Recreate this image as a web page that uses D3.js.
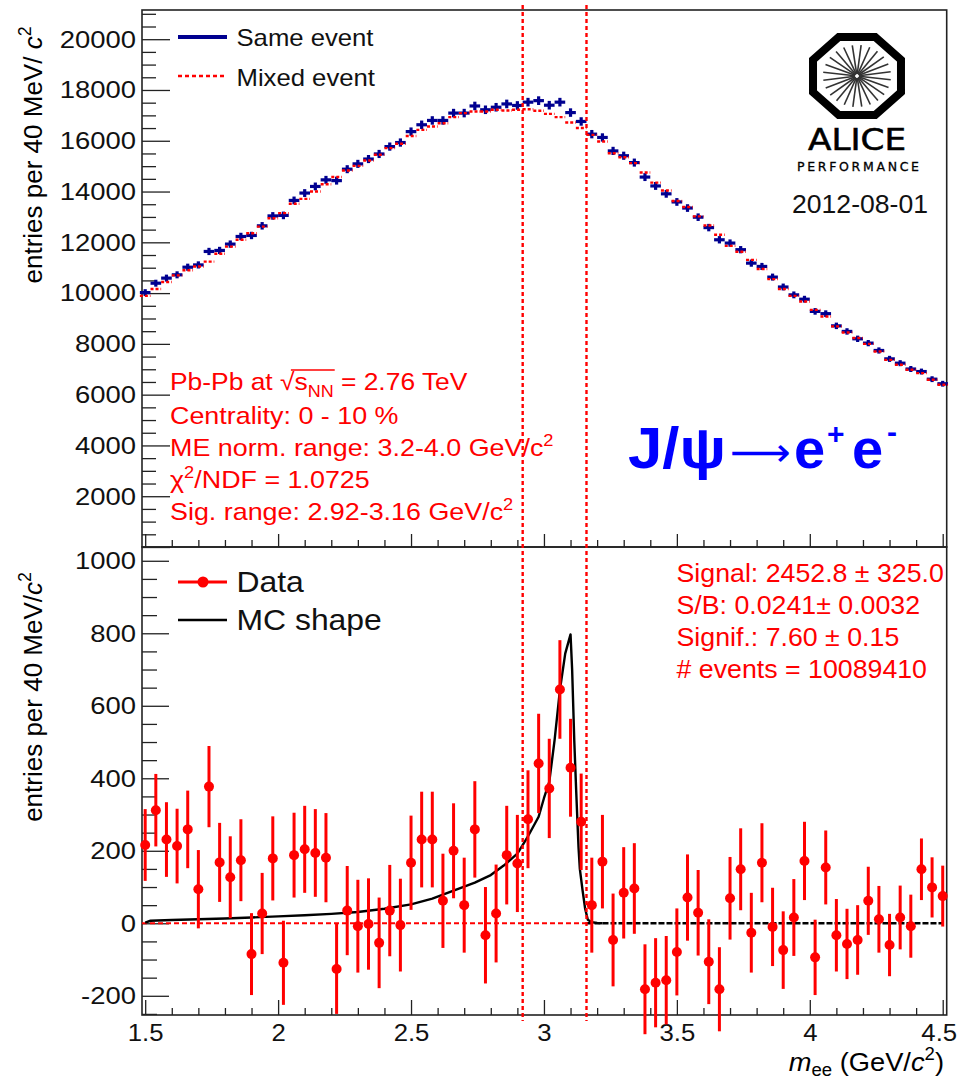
<!DOCTYPE html>
<html>
<head>
<meta charset="utf-8">
<script src="https://cdn.jsdelivr.net/npm/d3@7"></script>
<style>
  body { margin: 0; background: #fff; }
  svg { display: block; }
</style>
</head>
<body>
<svg id="chart" width="960" height="1083"></svg>
<script>
// Invariant-mass bins (GeV/c^2), 40 MeV wide
const massBins = [1.50,1.54,1.58,1.62,1.66,1.70,1.74,1.78,1.82,1.86,1.90,1.94,1.98,2.02,2.06,2.10,2.14,2.18,2.22,2.26,
  2.30,2.34,2.38,2.42,2.46,2.50,2.54,2.58,2.62,2.66,2.70,2.74,2.78,2.82,2.86,2.90,2.94,2.98,3.02,3.06,
  3.10,3.14,3.18,3.22,3.26,3.30,3.34,3.38,3.42,3.46,3.50,3.54,3.58,3.62,3.66,3.70,3.74,3.78,3.82,3.86,
  3.90,3.94,3.98,4.02,4.06,4.10,4.14,4.18,4.22,4.26,4.30,4.34,4.38,4.42,4.46,4.50];
const binWidth = 0.04;

// Same-event unlike-sign pairs
const sameEvent = [10020,10390,10590,10720,11020,11110,11640,11680,11930,12230,12270,12650,13040,13060,13650,13940,14200,14460,14430,14880,
  15090,15280,15480,15770,15930,16360,16630,16800,16800,17090,17090,17370,17220,17320,17450,17390,17520,17580,17400,17520,
  17110,16760,16260,16130,15600,15410,15140,14570,14220,13910,13590,13350,12990,12580,12100,11970,11710,11180,11050,10630,
  10240,9930,9760,9280,9190,8710,8490,8200,8030,7740,7410,7240,7010,6910,6610,6430];
const sameEventErr = [135,137,138,139,140,141,143,143,144,146,146,148,150,150,153,154,155,157,157,158,
  159,160,161,162,163,165,166,167,167,168,168,169,169,169,170,170,170,171,170,170,
  168,167,165,164,162,161,159,157,155,154,152,151,149,147,145,144,143,141,140,138,
  136,135,134,131,131,128,127,125,124,122,120,119,118,117,115,114];
// Mixed-event background, normalised in 3.2-4.0 GeV/c^2
const mixedEvent = [9890,10160,10440,10700,10900,11050,11240,11550,11830,12100,12360,12620,12950,13150,13520,13710,14000,14290,14570,14830,
  15010,15220,15450,15710,15880,16190,16430,16560,16690,16930,17090,17150,17150,17220,17190,17220,17240,17180,17060,16930,
  16720,16500,16230,15970,15510,15350,15120,14750,14350,14040,13630,13390,13020,12660,12300,11860,11630,11310,10950,10550,
  10160,9890,9670,9340,9080,8690,8450,8230,8000,7700,7370,7180,6980,6850,6590,6390];

// Background-subtracted signal
const signal = [216,312,231,213,259,94,377,168,127,174,-85,27,179,-109,188,204,194,181,-126,35,
  -8,-2,-54,35,-5,167,231,231,62,200,50,259,-33,27,188,165,287,441,372,645,
  429,280,50,170,-46,84,96,-182,-164,-157,-79,71,29,-106,-182,69,149,-26,167,-10,
  -74,16,172,-94,154,-33,-57,-46,62,11,-60,16,-8,149,99,75];
const signalErr = [99,100,103,103,107,108,112,109,113,113,113,112,116,116,117,120,121,123,124,123,
  128,126,125,126,128,130,132,132,130,131,131,133,133,135,136,134,135,137,137,136,
  135,133,131,129,128,126,125,124,123,122,120,119,118,117,116,114,113,110,109,108,
  107,106,108,104,102,100,97,96,94,92,86,88,87,85,83,84];

// MC line shape of the J/psi
const mcMass = [1.50,1.52,1.60,1.70,1.80,1.90,2.00,2.10,2.20,2.30,2.40,2.50,2.58,2.66,2.74,2.80,2.85,2.90,2.94,2.98,
  3.00,3.02,3.04,3.06,3.08,3.10,3.106,3.114,3.121,3.126,3.130,3.135,3.145,3.155,3.165,3.18,3.20,3.22];
const mcShape = [2,7,9,11,13,16,19,22,26,31,40,52,68,90,112,133,160,192,240,294,
  345,390,505,643,744,797,700,505,370,280,210,150,92,40,10,3,1,0];

// Signal integration window
const sigRange = [2.92, 3.16];

// Axis ticks
const topMajor = [0,2000,4000,6000,8000,10000,12000,14000,16000,18000,20000];
const topMinor = d3.range(0, 21001, 500);
const botMajor = [-200,0,200,400,600,800,1000];
const botMinor = d3.range(-250, 1001, 50);
const xMajor = [1.5,2,2.5,3,3.5,4,4.5];
const xMinor = d3.range(15, 46, 1).map(d => d / 10);

const FONT = '"Liberation Sans", Arial, Helvetica, sans-serif';
const RED = "#ff0000";
const NAVY = "#000090";

const svg = d3.select("#chart");

const x = d3.scaleLinear().domain([1.488, 4.515]).range([142, 946.7]);
const yTop = d3.scaleLinear().domain([0, 21150]).range([547, 10]);
const yBot = d3.scaleLinear().domain([-253, 1038]).range([1015, 547]);

// text with sub/superscripts, optionally stretched horizontally
function rich(parent, px, py, parts, o) {
  const g = parent.append("g").attr("transform", `translate(${px},${py}) scale(${o.sx || 1},1)`);
  const t = g.append("text")
    .attr("font-size", o.size)
    .attr("fill", o.fill || "#000")
    .attr("text-anchor", o.anchor || "start")
    .attr("font-family", o.family || FONT);
  if (o.weight) t.attr("font-weight", o.weight);
  let shift = 0;
  parts.forEach(p => {
    if (typeof p === "string") p = { t: p };
    const target = p.sup ? -0.42 * o.size : p.sub ? (o.subShift || 0.28) * o.size : 0;
    const ts = t.append("tspan").text(p.t).attr("dy", target - shift);
    shift = target;
    if (p.sup || p.sub) ts.attr("font-size", o.size * 0.68);
    if (p.italic) ts.attr("font-style", "italic");
  });
  return { g, t };
}

function styleAxis(g, size) {
  g.select(".domain").remove();
  g.selectAll(".tick line").attr("stroke", "#222").attr("stroke-width", 1.3);
  g.selectAll(".tick text").attr("font-family", FONT).attr("font-size", size).attr("fill", "#111");
}

// widen tick labels a little, keeping their anchor point
function stretchLabels(g, dx, dy, sx) {
  g.selectAll(".tick text")
    .attr("x", 0).attr("y", 0)
    .attr("transform", `translate(${dx},${dy}) scale(${sx},1)`);
}

// ---------- frames ----------
const frames = svg.append("g");
[[yTop.range()[1], yTop.range()[0]], [yBot.range()[1], yBot.range()[0]]].forEach(([t, b]) => {
  frames.append("rect")
    .attr("x", x.range()[0]).attr("y", t)
    .attr("width", x.range()[1] - x.range()[0]).attr("height", b - t)
    .attr("fill", "none").attr("stroke", "#222").attr("stroke-width", 1.6);
});

// ---------- top panel axes ----------
const gTopY = svg.append("g").attr("transform", `translate(${x.range()[0]},0)`)
  .call(d3.axisLeft(yTop).tickValues(topMajor).tickSize(-28).tickPadding(6)
    .tickFormat(d => d === 0 ? "" : String(d)));
styleAxis(gTopY, 24.5);
stretchLabels(gTopY, -6, 0, 1.12);
const gTopYm = svg.append("g").attr("transform", `translate(${x.range()[0]},0)`)
  .call(d3.axisLeft(yTop).tickValues(topMinor.filter(d => d % 2000 !== 0)).tickSize(-14).tickFormat(""));
styleAxis(gTopYm, 10);

const gTopX = svg.append("g").attr("transform", `translate(0,${yTop.range()[0]})`)
  .call(d3.axisBottom(x).tickValues(xMajor).tickSize(-13).tickFormat(""));
styleAxis(gTopX, 10);
const gTopXm = svg.append("g").attr("transform", `translate(0,${yTop.range()[0]})`)
  .call(d3.axisBottom(x).tickValues(xMinor.filter(d => !xMajor.includes(d))).tickSize(-7).tickFormat(""));
styleAxis(gTopXm, 10);

// ---------- bottom panel axes ----------
const gBotY = svg.append("g").attr("transform", `translate(${x.range()[0]},0)`)
  .call(d3.axisLeft(yBot).tickValues(botMajor).tickSize(-27).tickPadding(6).tickFormat(d => String(d)));
styleAxis(gBotY, 24.5);
stretchLabels(gBotY, -6, 0, 1.12);
const gBotYm = svg.append("g").attr("transform", `translate(${x.range()[0]},0)`)
  .call(d3.axisLeft(yBot).tickValues(botMinor.filter(d => d % 200 !== 0)).tickSize(-15).tickFormat(""));
styleAxis(gBotYm, 10);

const gBotX = svg.append("g").attr("transform", `translate(0,${yBot.range()[0]})`)
  .call(d3.axisBottom(x).tickValues(xMajor).tickSize(-15).tickPadding(9).tickFormat(d => String(d)));
styleAxis(gBotX, 24.5);
stretchLabels(gBotX, 0, 9, 1.05);
// keep the last label inside the canvas
gBotX.selectAll(".tick text").filter(d => d === xMajor[xMajor.length - 1])
  .attr("transform", "translate(-4,9) scale(1.05,1)");
const gBotXm = svg.append("g").attr("transform", `translate(0,${yBot.range()[0]})`)
  .call(d3.axisBottom(x).tickValues(xMinor.filter(d => !xMajor.includes(d))).tickSize(-7).tickFormat(""));
styleAxis(gBotXm, 10);

// ---------- axis titles ----------
rich(svg, 0, 0, ["entries per 40 MeV/ ", { t: "c", italic: true }, { t: "2", sup: true }], { size: 26 })
  .g.attr("transform", "translate(42,155) rotate(-90)").select("text").attr("text-anchor", "middle");
rich(svg, 0, 0, ["entries per 40 MeV/", { t: "c", italic: true }, { t: "2", sup: true }], { size: 26 })
  .g.attr("transform", "translate(42,697) rotate(-90)").select("text").attr("text-anchor", "middle");
rich(svg, 944, 1071, [{ t: "m", italic: true }, { t: "ee", sub: true }, " (GeV/", { t: "c", italic: true }, { t: "2", sup: true }, ")"],
  { size: 26, anchor: "end", sx: 1.05, subShift: 0.2 });

// ---------- top panel data ----------
const gTop = svg.append("g");
// same event crosses
gTop.selectAll("g.same").data(massBins).join("g").attr("class", "same").each(function (m, i) {
  const g = d3.select(this);
  g.append("line")
    .attr("x1", x(m - binWidth / 2)).attr("x2", x(m + binWidth / 2))
    .attr("y1", yTop(sameEvent[i])).attr("y2", yTop(sameEvent[i]));
  g.append("line")
    .attr("x1", x(m)).attr("x2", x(m))
    .attr("y1", yTop(sameEvent[i] - sameEventErr[i])).attr("y2", yTop(sameEvent[i] + sameEventErr[i]));
}).attr("stroke", NAVY).attr("stroke-width", 3.2);

// mixed event bins
gTop.selectAll("line.mixed").data(massBins).join("line").attr("class", "mixed")
  .attr("x1", m => x(m - binWidth / 2)).attr("x2", m => x(m + binWidth / 2))
  .attr("y1", (m, i) => yTop(mixedEvent[i])).attr("y2", (m, i) => yTop(mixedEvent[i]))
  .attr("stroke", RED).attr("stroke-width", 2.4).attr("stroke-dasharray", "3,2");

// ---------- bottom panel data ----------
const gBot = svg.append("g");
// zero reference
gBot.append("line")
  .attr("x1", x.range()[0]).attr("x2", x(sigRange[1]))
  .attr("y1", yBot(0)).attr("y2", yBot(0))
  .attr("stroke", RED).attr("stroke-width", 2).attr("stroke-dasharray", "5,3");
gBot.append("line")
  .attr("x1", x(sigRange[1])).attr("x2", x(massBins[massBins.length - 1]))
  .attr("y1", yBot(0)).attr("y2", yBot(0))
  .attr("stroke", "#000").attr("stroke-width", 2.4).attr("stroke-dasharray", "6,2");

// MC shape
gBot.append("path")
  .datum(mcMass.map((m, i) => [m, mcShape[i]]))
  .attr("d", d3.line().x(d => x(d[0])).y(d => yBot(d[1])))
  .attr("fill", "none").attr("stroke", "#000").attr("stroke-width", 2.4).attr("stroke-linejoin", "round");

// data points
gBot.selectAll("line.err").data(massBins).join("line").attr("class", "err")
  .attr("x1", m => x(m)).attr("x2", m => x(m))
  .attr("y1", (m, i) => yBot(signal[i] - signalErr[i])).attr("y2", (m, i) => yBot(signal[i] + signalErr[i]))
  .attr("stroke", RED).attr("stroke-width", 3);
gBot.selectAll("circle.pt").data(massBins).join("circle").attr("class", "pt")
  .attr("cx", m => x(m)).attr("cy", (m, i) => yBot(signal[i])).attr("r", 5)
  .attr("fill", RED);

// signal window lines
svg.append("g").selectAll("line").data(sigRange).join("line")
  .attr("x1", d => x(d)).attr("x2", d => x(d))
  .attr("y1", 5).attr("y2", 1021)
  .attr("stroke", RED).attr("stroke-width", 2.4).attr("stroke-dasharray", "4,3");

// ---------- top legend ----------
const leg = svg.append("g");
leg.append("line").attr("x1", 178).attr("x2", 227).attr("y1", 37).attr("y2", 37)
  .attr("stroke", NAVY).attr("stroke-width", 4);
rich(leg, 236.5, 46, ["Same event"], { size: 24, sx: 1.07, fill: "#111" });
leg.append("line").attr("x1", 178).attr("x2", 227).attr("y1", 76).attr("y2", 76)
  .attr("stroke", RED).attr("stroke-width", 2.4).attr("stroke-dasharray", "4,3");
rich(leg, 236.5, 86, ["Mixed event"], { size: 24, sx: 1.07, fill: "#111" });

// ---------- bottom legend ----------
leg.append("line").attr("x1", 178).attr("x2", 227).attr("y1", 582).attr("y2", 582)
  .attr("stroke", RED).attr("stroke-width", 3);
leg.append("circle").attr("cx", 203).attr("cy", 582).attr("r", 5.5).attr("fill", RED);
rich(leg, 236.5, 592, ["Data"], { size: 29, sx: 1.1, fill: "#111" });
leg.append("line").attr("x1", 178).attr("x2", 227).attr("y1", 620).attr("y2", 620)
  .attr("stroke", "#000").attr("stroke-width", 2.4);
rich(leg, 236.5, 630, ["MC shape"], { size: 29, sx: 1.1, fill: "#111" });

// ---------- info text ----------
const info = svg.append("g");
const line1 = rich(info, 170, 390, ["Pb-Pb at ", "\u221A", "s", { t: "NN", sub: true }, " = 2.76 TeV"],
  { size: 24, sx: 1.1, fill: RED });
{
  const node = line1.t.node();
  const txt = "Pb-Pb at \u221AsNN = 2.76 TeV";
  const iRoot = txt.indexOf("\u221A");
  const ext0 = node.getExtentOfChar(iRoot);
  const ext1 = node.getExtentOfChar(iRoot + 3);
  line1.g.append("line")
    .attr("x1", ext0.x + ext0.width * 0.75).attr("x2", ext1.x + ext1.width + 1)
    .attr("y1", -20).attr("y2", -20)
    .attr("stroke", RED).attr("stroke-width", 1.4);
}
rich(info, 170, 424, ["Centrality: 0 - 10 %"], { size: 24, sx: 1.12, fill: RED });
rich(info, 170, 456, ["ME norm. range: 3.2-4.0 GeV/c", { t: "2", sup: true }], { size: 24, sx: 1.12, fill: RED });
rich(info, 170, 488, ["\u03C7", { t: "2", sup: true }, "/NDF = 1.0725"], { size: 24, sx: 1.12, fill: RED });
rich(info, 170, 520, ["Sig. range: 2.92-3.16 GeV/c", { t: "2", sup: true }], { size: 24, sx: 1.12, fill: RED });

rich(info, 676.5, 582, ["Signal: 2452.8 \u00B1 325.0"], { size: 25, sx: 1.07, fill: RED });
rich(info, 676.5, 614, ["S/B: 0.0241\u00B1 0.0032"], { size: 25, sx: 1.07, fill: RED });
rich(info, 676.5, 646, ["Signif.: 7.60 \u00B1 0.15"], { size: 25, sx: 1.07, fill: RED });
rich(info, 676.5, 678, ["# events = 10089410"], { size: 25, sx: 1.07, fill: RED });

// ---------- decay label ----------
const decay = svg.append("g").attr("fill", "#0000ff").attr("font-family", FONT);
decay.append("text").attr("x", 628).attr("y", 468).attr("font-size", 58).attr("font-weight", "bold")
  .attr("textLength", 98).attr("lengthAdjust", "spacingAndGlyphs").text("J/\u03C8");
decay.append("text").attr("x", 730).attr("y", 466).attr("font-size", 40).attr("font-family", "DejaVu Sans")
  .attr("textLength", 61).attr("lengthAdjust", "spacingAndGlyphs").text("\u27F6");
decay.append("text").attr("x", 794).attr("y", 468).attr("font-size", 56).attr("font-weight", "bold").text("e");
decay.append("text").attr("x", 827).attr("y", 444).attr("font-size", 30).attr("font-weight", "bold").text("+");
decay.append("text").attr("x", 852).attr("y", 468).attr("font-size", 56).attr("font-weight", "bold").text("e");
decay.append("text").attr("x", 887).attr("y", 442).attr("font-size", 30).attr("font-weight", "bold").text("-");

// ---------- ALICE performance badge ----------
const logo = svg.append("g");
const cx = 857, cy = 76;
const oct = d3.range(8).map(k => {
  const a = (22.5 + 45 * k) * Math.PI / 180;
  return [cx + 47.6 * Math.cos(a), cy + 42.2 * Math.sin(a)];
});
logo.append("polygon").attr("points", oct.map(p => p.join(",")).join(" "))
  .attr("fill", "#fff").attr("stroke", "#000").attr("stroke-width", 8).attr("stroke-linejoin", "miter");
d3.range(24).forEach(k => {
  const a = (k * 15 + 7) * Math.PI / 180;
  logo.append("line")
    .attr("x1", cx + 2 * Math.cos(a)).attr("y1", cy + 2 * Math.sin(a))
    .attr("x2", cx + 34 * Math.cos(a)).attr("y2", cy + 31 * Math.sin(a))
    .attr("stroke", "#333").attr("stroke-width", 1.6);
});
logo.append("text").attr("x", 808).attr("y", 149.5).attr("font-size", 31)
  .attr("font-family", '"DejaVu Sans", sans-serif').attr("fill", "#000")
  .attr("stroke", "#000").attr("stroke-width", 0.6)
  .attr("textLength", 98).attr("lengthAdjust", "spacingAndGlyphs").text("ALICE");
logo.append("text").attr("x", 797).attr("y", 170.5).attr("font-size", 12.5)
  .attr("font-family", '"DejaVu Sans", sans-serif').attr("fill", "#000")
  .attr("stroke", "#000").attr("stroke-width", 0.3)
  .attr("textLength", 122).attr("lengthAdjust", "spacing").text("PERFORMANCE");
logo.append("text").attr("x", 792).attr("y", 212.5).attr("font-size", 26.5)
  .attr("font-family", FONT).attr("fill", "#111")
  .attr("textLength", 136).attr("lengthAdjust", "spacingAndGlyphs").text("2012-08-01");
</script>
</body>
</html>
